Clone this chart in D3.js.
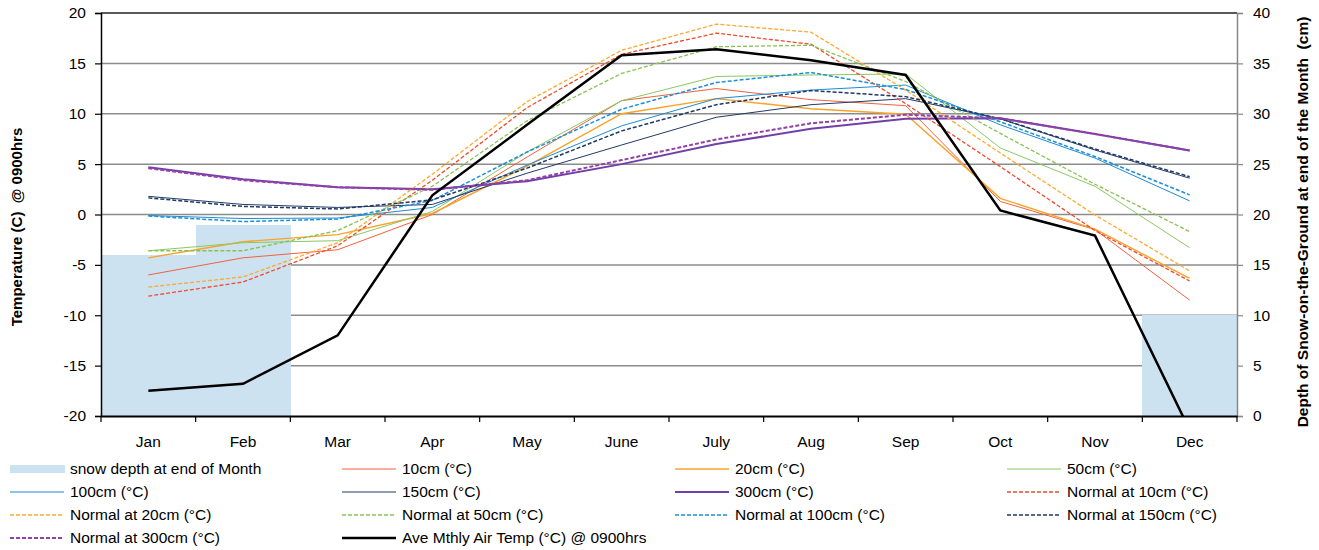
<!DOCTYPE html>
<html><head><meta charset="utf-8">
<script src="https://cdn.jsdelivr.net/npm/d3@7"></script>
<style>
html,body{margin:0;padding:0;background:#fff;}
svg{display:block;font-family:"Liberation Sans",Arial,sans-serif;}
</style></head>
<body><svg id="chart" width="1319" height="550"></svg>
<script>
const months = ["Jan","Feb","Mar","Apr","May","June","July","Aug","Sep","Oct","Nov","Dec"];
const snowDepth = [16,19,0,0,0,0,0,0,0,0,0,10];
const t10  = [-6.0,-4.3,-3.5,0.0,5.7,11.3,12.5,11.4,10.8,1.3,-1.5,-8.5];
const t20  = [-4.3,-2.7,-2.0,0.1,4.8,10.0,11.5,10.5,9.95,1.6,-1.45,-6.35];
const t50  = [-3.6,-2.8,-2.6,0.3,6.2,11.3,13.7,13.85,13.95,6.6,2.8,-3.3];
const t100 = [-0.1,-0.4,-0.35,0.7,4.9,8.8,11.5,12.35,12.85,8.9,5.6,1.35];
const t150 = [1.8,1.0,0.7,1.0,4.1,6.9,9.65,10.9,11.5,9.5,6.4,3.6];
const t300 = [4.7,3.5,2.7,2.5,3.3,5.0,7.0,8.5,9.5,9.55,8.0,6.35];
const n10  = [-8.1,-6.7,-3.1,3.4,10.6,15.9,18.0,16.9,11.0,4.75,-1.6,-6.6];
const n20  = [-7.2,-6.2,-2.8,4.0,11.2,16.3,18.9,18.1,12.35,6.1,-0.05,-5.6];
const n50  = [-3.6,-3.6,-1.6,2.8,9.3,14.0,16.65,16.8,13.2,8.05,3.0,-1.7];
const n100 = [-0.15,-0.7,-0.45,1.4,6.2,10.45,13.1,14.1,12.4,9.2,5.75,1.95];
const n150 = [1.65,0.8,0.55,1.45,4.6,8.3,10.9,12.3,11.7,9.5,6.5,3.75];
const n300 = [4.6,3.4,2.7,2.45,3.4,5.4,7.45,9.05,9.9,9.55,8.0,6.35];
const airTemp = [-17.5,-16.8,-12.0,1.9,8.9,15.8,16.4,15.3,13.85,0.4,-2.1,-21.4];
const leftTicks = [-20,-15,-10,-5,0,5,10,15,20];
const rightTicks = [0,5,10,15,20,25,30,35,40];

const series = [
  {name:"10cm (°C)", values:t10, color:"#f2603f", w:1, dash:null},
  {name:"20cm (°C)", values:t20, color:"#f9a328", w:1.4, dash:null},
  {name:"50cm (°C)", values:t50, color:"#8cc862", w:1, dash:null},
  {name:"100cm (°C)", values:t100, color:"#1d8bd0", w:1, dash:null},
  {name:"150cm (°C)", values:t150, color:"#223a66", w:1, dash:null},
  {name:"300cm (°C)", values:t300, color:"#7040a8", w:2, dash:null},
  {name:"Normal at 10cm (°C)", values:n10, color:"#ef4b2d", w:1.3, dash:"4,2"},
  {name:"Normal at 20cm (°C)", values:n20, color:"#fbaa2e", w:1.3, dash:"4,2"},
  {name:"Normal at 50cm (°C)", values:n50, color:"#86c353", w:1.3, dash:"4,2"},
  {name:"Normal at 100cm (°C)", values:n100, color:"#1b8fd8", w:1.5, dash:"4,2"},
  {name:"Normal at 150cm (°C)", values:n150, color:"#1f3864", w:1.5, dash:"4,2"},
  {name:"Normal at 300cm (°C)", values:n300, color:"#963fa6", w:2, dash:"4,2"}
];

const svg = d3.select("#chart");
const L = 101, R = 1237, T = 13, B = 416;
const x = d3.scaleBand().domain(months).range([L, R]).padding(0);
const y = d3.scaleLinear().domain([-20, 20]).range([B, T]);
const y2 = d3.scaleLinear().domain([0, 40]).range([B, T]);

// gridlines
svg.append("g").selectAll("line").data(leftTicks.filter(d => d > -20 && d < 20)).join("line")
  .attr("x1", L).attr("x2", R).attr("y1", d => y(d)).attr("y2", d => y(d))
  .attr("stroke", "#8c8c8c").attr("stroke-width", 1.5);

// snow bars
svg.append("g").attr("shape-rendering","crispEdges").selectAll("rect")
  .data(months.map((m,i)=>({m, v:snowDepth[i]})).filter(d=>d.v>0)).join("rect")
  .attr("x", d => x(d.m)).attr("width", x.bandwidth() + 0.5)
  .attr("y", d => y2(d.v)).attr("height", d => B - y2(d.v))
  .attr("fill", "#cde2f1");

svg.append("defs").append("clipPath").attr("id","clip").append("rect")
  .attr("x", L).attr("y", T).attr("width", R-L).attr("height", B-T);

const line = d3.line().x((d,i) => x(months[i]) + x.bandwidth()/2).y(d => y(d));
const lg = svg.append("g").attr("clip-path","url(#clip)");
series.forEach(s => {
  lg.append("path").attr("d", line(s.values)).attr("fill","none")
    .attr("stroke", s.color).attr("stroke-width", s.w)
    .attr("stroke-dasharray", s.dash);
});
lg.append("path").attr("d", line(airTemp)).attr("fill","none")
  .attr("stroke","#000").attr("stroke-width",2.5);

// top border
svg.append("line").attr("x1",L).attr("x2",R).attr("y1",T).attr("y2",T).attr("stroke","#222").attr("stroke-width",1.5);

// axes
const ax = svg.append("g").attr("transform",`translate(${L},0)`)
  .call(d3.axisLeft(y).tickValues(leftTicks).tickSize(6).tickPadding(9).tickFormat(d => String(d)));
ax.select(".domain").attr("stroke","#000").attr("stroke-width",1.5);
ax.selectAll(".tick line").attr("stroke","#000").attr("stroke-width",1.2);
ax.selectAll("text").attr("font-size",15.5).attr("fill","#000");

const ar = svg.append("g").attr("transform",`translate(${R},0)`)
  .call(d3.axisRight(y2).tickValues(rightTicks).tickSize(6).tickPadding(10).tickFormat(d => String(d)));
ar.select(".domain").attr("stroke","#888").attr("stroke-width",1.5);
ar.selectAll(".tick line").attr("stroke","#888").attr("stroke-width",1.2);
ar.selectAll("text").attr("font-size",15.5).attr("fill","#000");

const bx = svg.append("g").attr("transform",`translate(0,${B})`)
  .call(d3.axisBottom(x).tickSize(0).tickPadding(20));
bx.select(".domain").attr("stroke","#000").attr("stroke-width",2);
bx.selectAll("text").attr("font-size",15.5).attr("fill","#000");
// band boundary ticks
svg.append("g").selectAll("line").data(d3.range(months.length+1)).join("line")
  .attr("x1", i => L + i*x.bandwidth()).attr("x2", i => L + i*x.bandwidth())
  .attr("y1", B).attr("y2", B+6).attr("stroke","#000").attr("stroke-width",1.2);

// axis titles
svg.append("text").attr("transform","translate(22,227) rotate(-90)")
  .attr("text-anchor","middle").attr("font-size",15).attr("font-weight","bold")
  .style("white-space","pre")
  .text("Temperature (C)  @ 0900hrs");
svg.append("text").attr("transform","translate(1308,222) rotate(-90)")
  .attr("text-anchor","middle").attr("font-size",15.5).attr("font-weight","bold")
  .style("white-space","pre")
  .text("Depth of Snow-on-the-Ground at end of the Month  (cm)");

// legend
const legendItems = [{name:"snow depth at end of Month", type:"bar"}]
  .concat(series.map(s => ({name:s.name, type:"line", s})))
  .concat([{name:"Ave Mthly Air Temp (°C) @ 0900hrs", type:"line", s:{color:"#000", w:2.5, dash:null}}]);
const colX = [10, 342, 675, 1007], rowY = [469, 492, 515, 538];
const leg = svg.append("g");
legendItems.forEach((it, k) => {
  const c = k % 4, r = Math.floor(k / 4);
  const gx = colX[c], gy = rowY[r];
  if (it.type === "bar") {
    leg.append("rect").attr("x", gx).attr("y", gy-4).attr("width", 55).attr("height", 8).attr("fill","#cde2f1");
  } else {
    leg.append("line").attr("x1", gx).attr("x2", gx+54).attr("y1", gy).attr("y2", gy)
      .attr("stroke", it.s.color).attr("stroke-width", it.s.w).attr("stroke-dasharray", it.s.dash);
  }
  leg.append("text").attr("x", gx+60).attr("y", gy).attr("dy","0.35em")
    .attr("font-size",15.5).attr("fill","#000").text(it.name);
});
</script></body></html>
